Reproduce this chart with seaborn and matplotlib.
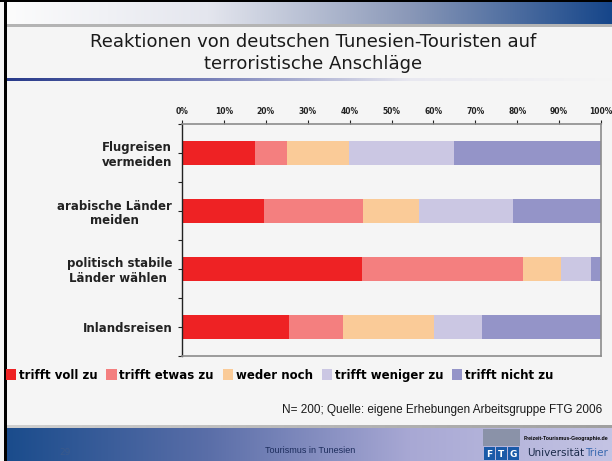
import numpy as np
import pandas as pd
import matplotlib
matplotlib.use("Agg")
import matplotlib.pyplot as plt
from matplotlib.patches import Patch, Rectangle
import seaborn as sns

# ── Data ───────────────────────────────────────────────────────────────────────
CATEGORIES = [
    "Flugreisen\nvermeiden",
    "arabische Länder\nmeiden",
    "politisch stabile\nLänder wählen ",
    "Inlandsreisen",
]
RESPONSES = ["trifft voll zu", "trifft etwas zu", "weder noch",
             "trifft weniger zu", "trifft nicht zu"]
VOLL = [17.5, 19.6, 43.0, 25.6]
ETWAS = [7.6, 23.7, 38.4, 12.9]
WEDER = [14.8, 13.3, 9.1, 21.6]
WENIGER = [25.1, 22.5, 7.2, 11.6]
NICHT = [35.0, 20.9, 2.3, 28.3]
COLORS = ["#ee2224", "#f47f7f", "#facb98", "#cbc7e3", "#9494c8"]
X_TICKS = list(range(0, 101, 10))

TITLE = "Reaktionen von deutschen Tunesien-Touristen auf\nterroristische Anschläge"
SOURCE = "N= 200; Quelle: eigene Erhebungen Arbeitsgruppe FTG 2006"

# long table + cumulative sums for stacking
df = pd.DataFrame({"cat": CATEGORIES, RESPONSES[0]: VOLL, RESPONSES[1]: ETWAS,
                   RESPONSES[2]: WEDER, RESPONSES[3]: WENIGER, RESPONSES[4]: NICHT})
cum = df[RESPONSES].cumsum(axis=1)
cum["cat"] = df["cat"]
long = cum.melt(id_vars="cat", var_name="resp", value_name="cum")

W, H = 612, 461
BG = "#f5f5f5"
fig = plt.figure(figsize=(W / 100, H / 100), dpi=100, facecolor=BG)

# ── Slide decoration ──────────────────────────────────────────────────────────
deco = fig.add_axes([0, 0, 1, 1], zorder=0)
deco.set_xlim(0, W)
deco.set_ylim(H, 0)
deco.axis("off")
deco.set_facecolor(BG)

grad = np.linspace(0, 1, 256)[None, :]
top_cmap = matplotlib.colors.LinearSegmentedColormap.from_list(
    "top", ["#fcfcfc", "#e4e6ee", "#8a98b8", "#16468a"])
deco.imshow(grad, cmap=top_cmap, extent=(6, W, 24, 2), aspect="auto")
deco.add_patch(Rectangle((6, 24), W, 3, color="#b4b4b4", lw=0))
line_cmap = matplotlib.colors.LinearSegmentedColormap.from_list(
    "line", ["#283a8a", "#7880b8", "#e8e8f0", BG])
deco.imshow(grad, cmap=line_cmap, extent=(6, W, 81, 78), aspect="auto")
bot_cmap = matplotlib.colors.LinearSegmentedColormap.from_list(
    "bot", ["#1a4c8c", "#5a6ea8", "#a8a8d4", "#c4c4e4"])
deco.imshow(grad, cmap=bot_cmap, extent=(6, W, H, 428), aspect="auto")
deco.imshow(grad, cmap=matplotlib.colors.LinearSegmentedColormap.from_list(
    "g", ["#d0d0d0", "#a0a0a0"]), extent=(6, W, 428, 425), aspect="auto")
deco.add_patch(Rectangle((0, 0), W, 2, color="black", lw=0))
deco.add_patch(Rectangle((4, 0), 3, H, color="black", lw=0))

fig.text(313 / W, 1 - 53 / H, TITLE, ha="center", va="center", fontsize=13,
         color="#1a1a1a", linespacing=1.3)
fig.text(602 / W, 1 - 410 / H, SOURCE, ha="right", va="center", fontsize=8.5,
         family="Liberation Sans", color="#1a1a1a")
fig.text(65 / W, 1 - 452 / H, "29", ha="center", va="center", fontsize=6.5,
         color="#3a5a8c")
fig.text(310 / W, 1 - 450 / H, "Tourismus in Tunesien", ha="center",
         va="center", fontsize=6.5, family="Liberation Sans", color="#1c2c5c")

# logo
deco.add_patch(Rectangle((483, 429), 37, 17, color="#8a92a8", lw=0))
for i, letter in enumerate("FTG"):
    deco.add_patch(Rectangle((484 + i * 12, 447), 11, 13, color="#1a5aa8",
                             lw=0))
    deco.text(489.5 + i * 12, 454, letter, ha="center", va="center",
              fontsize=6.5, fontweight="bold", color="white")
deco.text(524, 438, "Freizeit-Tourismus-Geographie.de", ha="left",
          va="center", fontsize=3.7, fontweight="bold", color="black",
          family="Liberation Sans")
deco.text(527, 453, "Universität", ha="left", va="center", fontsize=7.5,
          color="#1a2a4a")
deco.text(585, 453, "Trier", ha="left", va="center", fontsize=7.5,
          color="#3a6ab0")

# ── Chart ─────────────────────────────────────────────────────────────────────
ax = fig.add_axes([182 / W, 1 - 356 / H, (601 - 182) / W, (356 - 124) / H],
                  zorder=2)
ax.set_facecolor(BG)
for resp, color in reversed(list(zip(RESPONSES, COLORS))):
    sns.barplot(data=long[long["resp"] == resp], x="cum", y="cat",
                order=CATEGORIES, orient="h", color=color, saturation=1,
                width=0.41, ax=ax, linewidth=0)

ax.set_xlim(0, 100)
ax.set_ylim(len(CATEGORIES) - 0.5, -0.5)
ax.xaxis.tick_top()
ax.set_xticks(X_TICKS)
ax.set_xticklabels([f"{t}%" for t in X_TICKS], fontsize=5.5,
                   fontweight="bold")
ax.tick_params(axis="x", length=3, width=0.8, pad=3, colors="#222222")
ax.set_yticks(range(len(CATEGORIES)))
ax.set_yticks(np.arange(-0.5, len(CATEGORIES), 1), minor=True)
ax.set_yticklabels(CATEGORIES, fontsize=8.5, fontweight="bold",
                   multialignment="center")
ax.tick_params(axis="y", which="both", length=3, width=0.8, pad=4,
               colors="#222222")
ax.set_xlabel("")
ax.set_ylabel("")
for side in ["top", "right", "bottom"]:
    ax.spines[side].set_color("#8c8c8c")
    ax.spines[side].set_linewidth(1.2)
ax.spines["left"].set_color("#222222")
ax.spines["left"].set_linewidth(1)

handles = [Patch(facecolor=c, edgecolor="none") for c in COLORS]
fig.legend(handles, RESPONSES, loc="center left",
           bbox_to_anchor=(6 / W, 1 - 375 / H), ncol=5, frameon=False,
           handlelength=0.85, handleheight=1.05, handletextpad=0.25,
           columnspacing=0.75, borderaxespad=0, borderpad=0,
           prop={"size": 8.5, "weight": "bold"})

fig.savefig("out.png", dpi=100, facecolor=BG)
